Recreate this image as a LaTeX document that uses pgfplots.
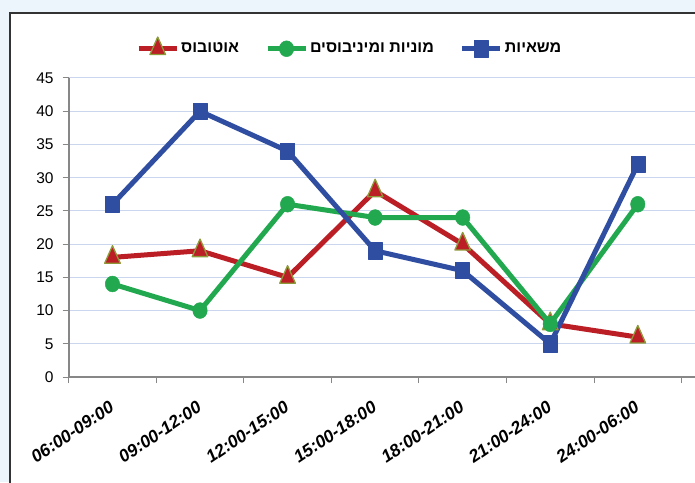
\documentclass[border=0pt]{standalone}
\usepackage{fontspec}
\setmainfont{Liberation Sans}
\newfontfamily\hebfont[Script=Hebrew]{Liberation Sans}
\TeXXeTstate=1
\usepackage{graphicx}
\usepackage{pgfplots}
\pgfplotsset{compat=1.18}
\definecolor{cred}{HTML}{BC1E25}
\definecolor{cgreen}{HTML}{22A94F}
\definecolor{cblue}{HTML}{2F4EA2}
\definecolor{colive}{HTML}{8E9A3A}
\definecolor{gridc}{HTML}{C9D6EE}
\definecolor{axisgray}{HTML}{878787}
\definecolor{bgblue}{HTML}{EDF5FC}
\newcommand{\rl}[1]{\rotatebox{34}{#1}}
\begin{document}
\begin{tikzpicture}
\useasboundingbox (-68.7pt,-105pt) rectangle (626.3pt,377pt);
\fill[bgblue] (-68.7pt,-105pt) rectangle (626.3pt,377pt);
\begin{scope}
\clip (-68.7pt,-105pt) rectangle (626.3pt,377pt);
\fill[white] (-58.7pt,-120pt) rectangle (640pt,364pt);
\draw[line width=2.5pt, black!80] (-58.7pt,-120pt) -- (-58.7pt,364pt) -- (640pt,364pt);
\begin{axis}[
  at={(0pt,0pt)}, anchor=south west,
  scale only axis, width=626pt, height=299pt,
  xmin=-0.5, xmax=6.65, ymin=0, ymax=45,
  axis x line=bottom, axis y line=left,
  axis line style={draw=axisgray, line width=1.6pt, -},
  ytick={0,5,...,45},
  xtick={-0.5,0.5,...,6.5}, xticklabels={},
  extra x ticks={0,1,2,3,4,5,6},
  extra x tick labels={{\rl{06:00-09:00}},{\rl{09:00-12:00}},{\rl{12:00-15:00}},{\rl{15:00-18:00}},{\rl{18:00-21:00}},{\rl{21:00-24:00}},{\rl{24:00-06:00}}},
  extra x tick style={major tick length=0pt, grid=none},
  xticklabel style={font=\fontsize{17.5}{20}\selectfont\bfseries\itshape, anchor=north east, inner sep=0pt, xshift=3pt},
  xticklabel shift=23pt,
  ymajorgrids, grid style={gridc, line width=1pt},
  tick align=outside, major tick length=6pt,
  tick style={axisgray, line width=1pt},
  /pgf/number format/assume math mode=true,
  yticklabel style={font=\fontsize{15.5}{18}\selectfont, anchor=east, inner sep=0pt, xshift=-9pt},
  legend columns=3,
  legend style={at={(0.449,1.104)}, anchor=center, draw=none, fill=none,
    font=\fontsize{16}{18}\selectfont\bfseries,
    /tikz/every even column/.append style={column sep=24pt},
    nodes={inner sep=2pt}},
  legend image code/.code={\draw[mark repeat=2,mark phase=2,#1] plot coordinates {(0pt,0pt) (19pt,0pt) (38pt,0pt)};},
  line join=round,
]
\addplot[cred, line width=5pt, mark=triangle*, mark size=9pt,
  mark options={solid, fill=cred, draw=colive, line width=1.3pt, yscale=1.3}]
  coordinates {(0,18) (1,19) (2,15) (3,28) (4,20) (5,8) (6,6)};
\addlegendentry{{\hebfont\bfseries\beginR אוטובוס\endR}}
\addplot[cgreen, line width=5pt, mark=*, mark size=7.2pt,
  mark options={solid, fill=cgreen, draw=cgreen, line width=0.5pt, yscale=1.1}]
  coordinates {(0,14) (1,10) (2,26) (3,24) (4,24) (5,8) (6,26)};
\addlegendentry{{\hebfont\bfseries\beginR מוניות ומיניבוסים\endR}}
\addplot[cblue, line width=5pt, mark=square*, mark size=7pt,
  mark options={solid, fill=cblue, draw=cblue, line width=0.5pt, yscale=1.15}]
  coordinates {(0,26) (1,40) (2,34) (3,19) (4,16) (5,5) (6,32)};
\addlegendentry{{\hebfont\bfseries\beginR משאיות\endR}}
\end{axis}
\end{scope}
\end{tikzpicture}
\end{document}
